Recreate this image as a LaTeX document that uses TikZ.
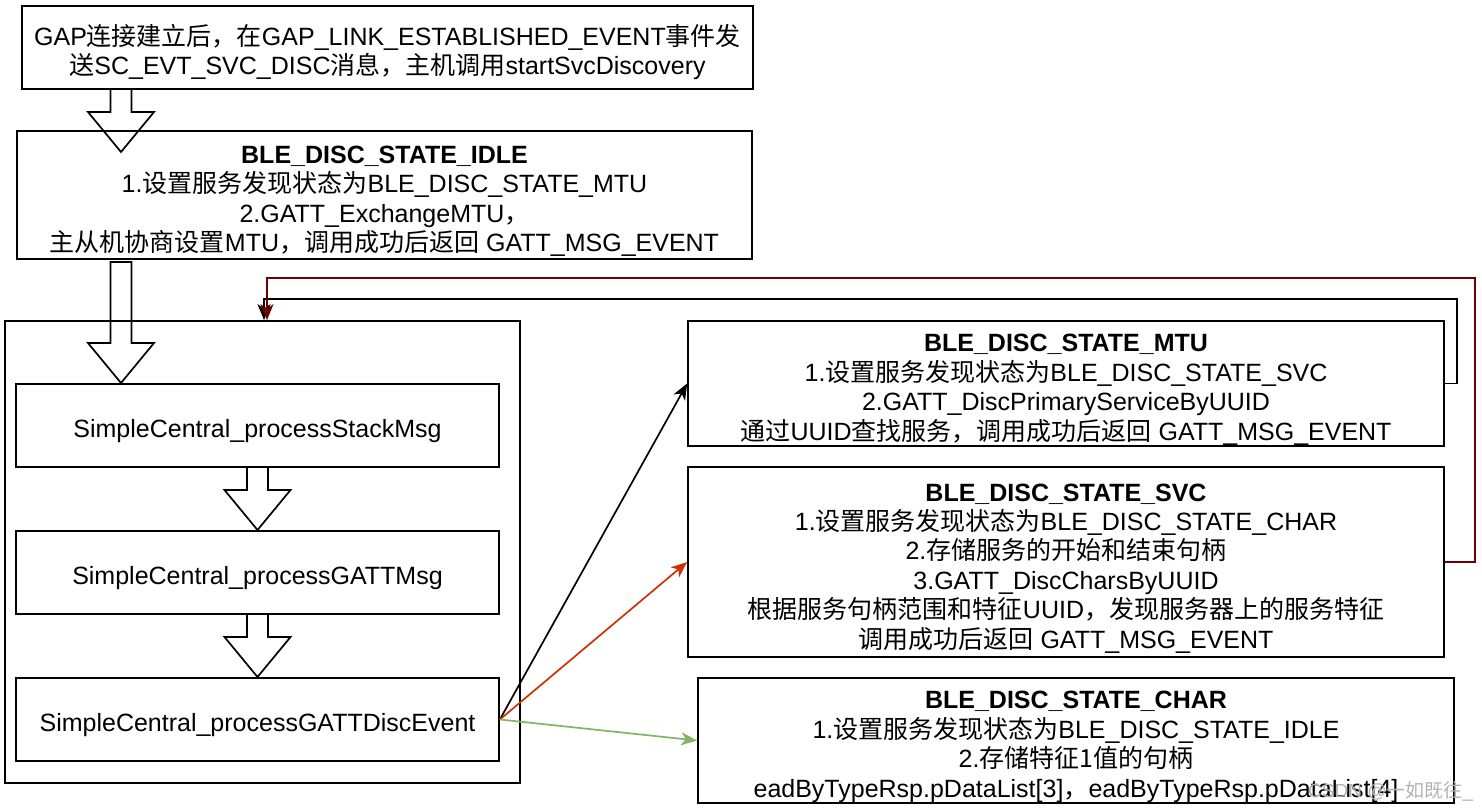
\documentclass[tikz,border=0pt]{standalone}
\usepackage{fontspec}
\setmainfont{Liberation Sans}
\newfontfamily\cjk{Noto Sans CJK SC}
\newcommand\zh[1]{{\cjk #1}}
\newcommand\st{\rule{0pt}{30pt}}
\usetikzlibrary{arrows.meta,calc}
\definecolor{darkred}{RGB}{111,0,0}
\definecolor{orangered}{RGB}{204,51,0}
\definecolor{leafgreen}{RGB}{130,179,102}
\begin{document}
\begin{tikzpicture}[x=1pt,y=-1pt,
  box/.style={draw,line width=1.7pt,inner sep=0pt,align=center,
    font=\fontsize{25}{29.4}\selectfont},
  blk/.style={draw,line width=1.7pt,line join=miter},
  conn/.style={line width=1.7pt,-{Stealth[length=16pt,width=13pt,inset=4.5pt]}},
]
\useasboundingbox (0,0) rectangle (1482,810);

% top boxes
\node[box,minimum width=731pt,minimum height=83pt] (top) at (387.5,47.5)
 {\st GAP\zh{连接建立后，在}GAP\_LINK\_ESTABLISHED\_EVENT\zh{事件发}\\
  \zh{送}SC\_EVT\_SVC\_DISC\zh{消息，主机调用}startSvcDiscovery};
\node[box,minimum width=735pt,minimum height=128pt] (idle) at (384.5,195)
 {\st\textbf{BLE\_DISC\_STATE\_IDLE}\\
  1.\zh{设置服务发现状态为}BLE\_DISC\_STATE\_MTU\\
  2.GATT\_ExchangeMTU\zh{，}\\
  \zh{主从机协商设置}MTU\zh{，调用成功后返回} GATT\_MSG\_EVENT};

% container and inner boxes
\node[box,minimum width=515pt,minimum height=462pt] (cont) at (262.5,552) {};
\node[box,minimum width=483pt,minimum height=83pt] (stack) at (257.5,425.5) {\st SimpleCentral\_processStackMsg};
\node[box,minimum width=483pt,minimum height=83pt] (gattm) at (257.5,572.5) {\st SimpleCentral\_processGATTMsg};
\node[box,minimum width=483pt,minimum height=83pt] (disc) at (257.5,719.5) {\st SimpleCentral\_processGATTDiscEvent};

% right boxes
\node[box,minimum width=756pt,minimum height=125pt] (mtu) at (1066,383.5)
 {\st\textbf{BLE\_DISC\_STATE\_MTU}\\
  1.\zh{设置服务发现状态为}BLE\_DISC\_STATE\_SVC\\
  2.GATT\_DiscPrimaryServiceByUUID\\
  \zh{通过}UUID\zh{查找服务，调用成功后返回} GATT\_MSG\_EVENT};
\node[box,minimum width=756pt,minimum height=190pt] (svc) at (1066,562)
 {\st\textbf{BLE\_DISC\_STATE\_SVC}\\
  1.\zh{设置服务发现状态为}BLE\_DISC\_STATE\_CHAR\\
  2.\zh{存储服务的开始和结束句柄}\\
  3.GATT\_DiscCharsByUUID\\
  \zh{根据服务句柄范围和特征}UUID\zh{，发现服务器上的服务特征}\\
  \zh{调用成功后返回} GATT\_MSG\_EVENT};
\node[box,minimum width=756pt,minimum height=125pt] (char) at (1076,740.5)
 {\st\textbf{BLE\_DISC\_STATE\_CHAR}\\
  1.\zh{设置服务发现状态为}BLE\_DISC\_STATE\_IDLE\\
  2.\zh{存储特征1值的句柄}\\
  eadByTypeRsp.pDataList[3]\zh{，}eadByTypeRsp.pDataList[4]};

% block arrows (outline only)
\newcommand\blockarrow[2]{%
  \draw[blk] ($(#1)+(-10.5,0)$) -- ($(#2)+(-10.5,-40)$) -- ($(#2)+(-33,-40)$)
    -- (#2) -- ($(#2)+(33,-40)$) -- ($(#2)+(10.5,-40)$) -- ($(#1)+(10.5,0)$) -- cycle;}
\coordinate (b1s) at (121,89);  \coordinate (b1e) at (121,152);
\coordinate (b2s) at (121,262); \coordinate (b2e) at (121,383);
\coordinate (b3s) at (257.5,467); \coordinate (b3e) at (257.5,530);
\coordinate (b4s) at (257.5,614); \coordinate (b4e) at (257.5,677);
\blockarrow{b1s}{b1e}
\blockarrow{b2s}{b2e}
\blockarrow{b3s}{b3e}
\blockarrow{b4s}{b4e}

% connectors from the disc event box
\draw[conn,black] (disc.east) -- (mtu.west);
\draw[conn,orangered] (disc.east) -- (svc.west);
\draw[conn,leafgreen] (disc.east) -- (char.west);

% feedback connectors
\draw[conn,black] (mtu.east) -- ++(12,0) |- ([xshift=1.5pt,yshift=21pt]cont.north) -- ([xshift=1.5pt]cont.north);
\draw[conn,darkred] (svc.east) -- ++(30,0) |- ([xshift=4.5pt,yshift=42pt]cont.north) -- ([xshift=4.5pt]cont.north);

% watermark
\node[text=gray!60,font=\fontsize{19}{22}\selectfont,anchor=west,inner sep=0pt] (wm) at (1308,791) {CSDN @\zh{一如既往}\_};
\end{tikzpicture}
\end{document}
